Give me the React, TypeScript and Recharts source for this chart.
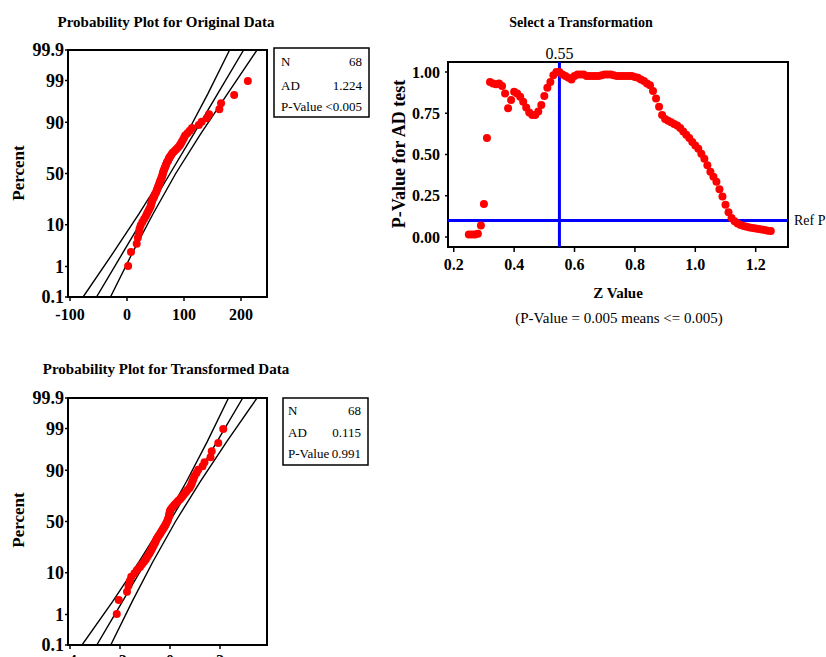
import React from 'react'
import {
  ComposedChart,
  ScatterChart,
  Scatter,
  XAxis,
  YAxis,
  ReferenceArea,
  ReferenceLine,
} from 'recharts'

const FONT = '"Liberation Serif", "Times New Roman", serif'

// original data, sorted (68 values)
const ORIGINAL = [
  2, 7, 17, 19, 21, 22, 24, 27, 30, 33,
  35, 37, 39, 41, 42, 43, 44, 45, 47, 48,
  49, 51, 52, 53, 54, 55, 56, 57, 58, 59,
  60, 61, 62, 62.5, 63, 64, 65, 66, 67, 68,
  69, 70, 72, 73, 74, 76, 78, 80, 83, 86,
  89, 92, 94, 96, 98, 100, 102, 106, 110, 114,
  126, 131, 140, 144, 162, 165, 188, 212,
]

// transformed data, sorted (68 values)
const TRANSFORMED = [
  -2.13, -2.05, -1.72, -1.66, -1.6, -1.55, -1.42, -1.32, -1.2, -1.12,
  -1.04, -0.97, -0.92, -0.86, -0.81, -0.77, -0.73, -0.69, -0.66, -0.62,
  -0.59, -0.56, -0.53, -0.49, -0.45, -0.41, -0.37, -0.33, -0.29, -0.26,
  -0.22, -0.19, -0.16, -0.13, -0.1, -0.08, -0.06, -0.04, -0.03, -0.02,
  -0.01, 0.01, 0.05, 0.1, 0.15, 0.2, 0.27, 0.33, 0.4, 0.46,
  0.52, 0.58, 0.64, 0.7, 0.78, 0.83, 0.87, 0.9, 0.94, 0.98,
  1.06, 1.13, 1.3, 1.38, 1.62, 1.67, 1.93, 2.13,
]

const PCT_TICKS = [0.1, 1, 10, 50, 90, 99, 99.9]
const ORIG_X_TICKS = [-100, 0, 100, 200]
const TRANS_X_TICKS = [-4, -2, 0, 2]

// fitted line and confidence bands, read at these normal scores
const BAND_Z = [-3.09, -2, -1, 0, 1, 2, 3.09]
const ORIG_FIT = [-53.5, -8, 33.8, 75.6, 117.4, 159.2, 204.6]
const ORIG_LOW = [-77, -25, 21.5, 65.5, 105, 142, 180]
const ORIG_HIGH = [-29, 9, 46, 85.5, 129.5, 176.5, 228]
const TRANS_FIT = [-2.93, -1.9, -0.955, -0.01, 0.935, 1.88, 2.91]
const TRANS_LOW = [-3.52, -2.29, -1.23, -0.24, 0.66, 1.49, 2.34]
const TRANS_HIGH = [-2.37, -1.51, -0.68, 0.22, 1.21, 2.27, 3.48]

// Z value grid and P-value for AD test
const Z_GRID = [
  0.25, 0.26, 0.27, 0.28, 0.29, 0.3, 0.31, 0.32, 0.33, 0.34,
  0.35, 0.36, 0.37, 0.38, 0.39, 0.4, 0.41, 0.42, 0.43, 0.44,
  0.45, 0.46, 0.47, 0.48, 0.49, 0.5, 0.51, 0.52, 0.53, 0.54,
  0.55, 0.56, 0.57, 0.58, 0.59, 0.6, 0.61, 0.62, 0.63, 0.64,
  0.65, 0.66, 0.67, 0.68, 0.69, 0.7, 0.71, 0.72, 0.73, 0.74,
  0.75, 0.76, 0.77, 0.78, 0.79, 0.8, 0.81, 0.82, 0.83, 0.84,
  0.85, 0.86, 0.87, 0.88, 0.89, 0.9, 0.91, 0.92, 0.93, 0.94,
  0.95, 0.96, 0.97, 0.98, 0.99, 1.0, 1.01, 1.02, 1.03, 1.04,
  1.05, 1.06, 1.07, 1.08, 1.09, 1.1, 1.11, 1.12, 1.13, 1.14,
  1.15, 1.16, 1.17, 1.18, 1.19, 1.2, 1.21, 1.22, 1.23, 1.24, 1.25,
]
const P_VALUES = [
  0.015, 0.015, 0.015, 0.02, 0.07, 0.2, 0.6, 0.94, 0.93, 0.925,
  0.93, 0.915, 0.87, 0.78, 0.83, 0.88, 0.87, 0.85, 0.82, 0.785,
  0.755, 0.74, 0.74, 0.76, 0.8, 0.855, 0.905, 0.94, 0.98, 1.0,
  1.0, 0.985, 0.975, 0.965, 0.955, 0.975, 0.985, 0.985, 0.985, 0.975,
  0.975, 0.975, 0.975, 0.975, 0.98, 0.985, 0.985, 0.985, 0.98, 0.975,
  0.975, 0.975, 0.975, 0.975, 0.975, 0.97, 0.965, 0.955, 0.945, 0.93,
  0.92, 0.885, 0.84, 0.79, 0.74, 0.715, 0.705, 0.695, 0.685, 0.675,
  0.66, 0.64, 0.62, 0.6, 0.575, 0.555, 0.535, 0.505, 0.475, 0.435,
  0.395, 0.365, 0.335, 0.29, 0.245, 0.195, 0.15, 0.115, 0.095, 0.082,
  0.072, 0.066, 0.062, 0.058, 0.055, 0.051, 0.048, 0.045, 0.042, 0.038, 0.036,
]
const Z_TICKS = [0.2, 0.4, 0.6, 0.8, 1.0, 1.2]
const P_TICKS = [0, 0.25, 0.5, 0.75, 1]
const SELECTED_Z = 0.55
const REF_P = 0.1

// inverse normal cdf (Acklam), used for the probability axis
function probit(p: number) {
  const a = [-39.69683028665376, 220.9460984245205, -275.9285104469687, 138.357751867269, -30.66479806614716, 2.506628277459239]
  const b = [-54.47609879822406, 161.5858368580409, -155.6989798598866, 66.80131188771972, -13.28068155288572]
  const c = [-0.007784894002430293, -0.3223964580411365, -2.400758277161838, -2.549732539343734, 4.374664141464968, 2.938163982698783]
  const d = [0.007784695709041462, 0.3224671290700398, 2.445134137142996, 3.754408661907416]
  const pl = 0.02425
  if (p < pl) {
    const q = Math.sqrt(-2 * Math.log(p))
    return (((((c[0] * q + c[1]) * q + c[2]) * q + c[3]) * q + c[4]) * q + c[5]) / ((((d[0] * q + d[1]) * q + d[2]) * q + d[3]) * q + 1)
  }
  if (p > 1 - pl) {
    const q = Math.sqrt(-2 * Math.log(1 - p))
    return -(((((c[0] * q + c[1]) * q + c[2]) * q + c[3]) * q + c[4]) * q + c[5]) / ((((d[0] * q + d[1]) * q + d[2]) * q + d[3]) * q + 1)
  }
  const q = p - 0.5
  const r = q * q
  return ((((((a[0] * r + a[1]) * r + a[2]) * r + a[3]) * r + a[4]) * r + a[5]) * q) / (((((b[0] * r + b[1]) * r + b[2]) * r + b[3]) * r + b[4]) * r + 1)
}

const Z_MAX = probit(0.999)
const PCT_Z = PCT_TICKS.map((p) => probit(p / 100))

const redDot = (r: number) => (props: any) =>
  props.cx == null ? <g /> : <circle cx={props.cx} cy={props.cy} r={r} fill="#ff0000" />
const noDot = () => <g />

interface ProbPlotProps {
  values: number[]
  xDomain: [number, number]
  xTicks: number[]
  fit: number[]
  low: number[]
  high: number[]
  top: number
  axisHeight: number
  labelGap: number
}

function ProbPlot({ values, xDomain, xTicks, fit, low, high, top, axisHeight, labelGap }: ProbPlotProps) {
  const n = values.length
  const points = values.map((v, i) => ({ x: v, z: probit((i + 1 - 0.3) / (n + 0.4)) }))
  const toLine = (xs: number[]) => xs.map((x, i) => ({ x, z: BAND_Z[i] }))
  const lineStyle = { stroke: '#000', strokeWidth: 1.4 }
  return (
    <ComposedChart width={280} height={top + 247 + axisHeight} margin={{ top, right: 13, bottom: 0, left: 0 }}>
      <XAxis
        type="number"
        dataKey="x"
        domain={xDomain}
        ticks={xTicks}
        interval={0}
        allowDataOverflow
        height={axisHeight}
        axisLine={false}
        tickSize={4}
        tickMargin={labelGap}
        tickLine={{ stroke: '#000', strokeWidth: 1.5 }}
        tick={{ fill: '#000', fontSize: 16, fontWeight: 'bold' }}
      />
      <YAxis
        type="number"
        dataKey="z"
        domain={[-Z_MAX, Z_MAX]}
        ticks={PCT_Z}
        interval={0}
        allowDataOverflow
        width={68}
        axisLine={false}
        tickSize={3}
        tickMargin={1}
        tickLine={{ stroke: '#000', strokeWidth: 1.5 }}
        tick={{ fill: '#000', fontSize: 18, fontWeight: 'bold' }}
        tickFormatter={(v: number) => {
          const k = PCT_Z.findIndex((z) => Math.abs(z - v) < 1e-6)
          return k >= 0 ? String(PCT_TICKS[k]) : ''
        }}
      />
      <ReferenceArea
        x1={xDomain[0]}
        x2={xDomain[1]}
        y1={-Z_MAX}
        y2={Z_MAX}
        fill="none"
        fillOpacity={0}
        stroke="#000"
        strokeWidth={2}
        ifOverflow="visible"
      />
      <Scatter data={toLine(low)} line={lineStyle} shape={noDot} isAnimationActive={false} />
      <Scatter data={toLine(fit)} line={lineStyle} shape={noDot} isAnimationActive={false} />
      <Scatter data={toLine(high)} line={lineStyle} shape={noDot} isAnimationActive={false} />
      <Scatter data={points} shape={redDot(4)} isAnimationActive={false} />
    </ComposedChart>
  )
}

function TransformPlot() {
  const data = Z_GRID.map((z, i) => ({ z, p: P_VALUES[i] }))
  return (
    <ScatterChart width={446} height={280} margin={{ top: 62, right: 38, bottom: 0, left: 0 }}>
      <XAxis
        type="number"
        dataKey="z"
        domain={[0.181, 1.307]}
        ticks={Z_TICKS}
        interval={0}
        allowDataOverflow
        height={33}
        axisLine={false}
        tickSize={5}
        tickMargin={7}
        tickLine={{ stroke: '#000', strokeWidth: 1.5 }}
        tick={{ fill: '#000', fontSize: 16, fontWeight: 'bold' }}
        tickFormatter={(v: number) => v.toFixed(1)}
      />
      <YAxis
        type="number"
        dataKey="p"
        domain={[-0.0606, 1.0606]}
        ticks={P_TICKS}
        interval={0}
        allowDataOverflow
        width={68}
        axisLine={false}
        tickSize={3}
        tickMargin={5}
        tickLine={{ stroke: '#000', strokeWidth: 1.5 }}
        tick={{ fill: '#000', fontSize: 16, fontWeight: 'bold' }}
        tickFormatter={(v: number) => v.toFixed(2)}
      />
      <ReferenceArea
        x1={0.181}
        x2={1.307}
        y1={-0.0606}
        y2={1.0606}
        fill="none"
        fillOpacity={0}
        stroke="#000"
        strokeWidth={2}
        ifOverflow="visible"
      />
      <ReferenceLine
        x={SELECTED_Z}
        stroke="#0000ff"
        strokeWidth={3}
        label={{ value: '0.55', position: 'top', offset: 3, fill: '#000', fontSize: 16, fontFamily: FONT }}
      />
      <ReferenceLine
        y={REF_P}
        stroke="#0000ff"
        strokeWidth={3}
        label={{ value: 'Ref P', position: 'right', offset: 6, fill: '#000', fontSize: 14, fontFamily: FONT }}
      />
      <Scatter data={data} shape={redDot(4)} isAnimationActive={false} />
    </ScatterChart>
  )
}

function StatBox({ x, y, w, h, rows, labelX, valueX, baselines }: {
  x: number; y: number; w: number; h: number; rows: [string, string][]; labelX: number; valueX: number; baselines: number[]
}) {
  return (
    <g fontSize={13} fill="#000">
      <rect x={x} y={y} width={w} height={h} fill="#fff" stroke="#000" strokeWidth={1.5} />
      {rows.map(([k, v], i) => (
        <g key={k}>
          <text x={labelX} y={baselines[i]}>{k}</text>
          <text x={valueX} y={baselines[i]} textAnchor="end">{v}</text>
        </g>
      ))}
    </g>
  )
}

export default function App() {
  return (
    <div
      style={{
        position: 'absolute',
        left: 0,
        top: 0,
        width: 826,
        height: 657,
        overflow: 'hidden',
        background: '#fff',
        fontFamily: FONT,
      }}
    >
      <div style={{ position: 'absolute', left: 0, top: 0 }}>
        <ProbPlot
          values={ORIGINAL}
          xDomain={[-103.5, 245.6]}
          xTicks={ORIG_X_TICKS}
          fit={ORIG_FIT}
          low={ORIG_LOW}
          high={ORIG_HIGH}
          top={50}
          axisHeight={33}
          labelGap={8}
        />
      </div>
      <div style={{ position: 'absolute', left: 0, top: 350 }}>
        <ProbPlot
          values={TRANSFORMED}
          xDomain={[-4.08, 3.88]}
          xTicks={TRANS_X_TICKS}
          fit={TRANS_FIT}
          low={TRANS_LOW}
          high={TRANS_HIGH}
          top={48}
          axisHeight={37}
          labelGap={6}
        />
      </div>
      <div style={{ position: 'absolute', left: 380, top: 0 }}>
        <TransformPlot />
      </div>
      <svg
        width={826}
        height={657}
        style={{ position: 'absolute', left: 0, top: 0, pointerEvents: 'none', fontFamily: FONT }}
      >
        <g fontWeight="bold" fill="#000">
          <text x={166} y={27} fontSize={15} textAnchor="middle">Probability Plot for Original Data</text>
          <text x={581} y={27} fontSize={14} textAnchor="middle">Select a Transformation</text>
          <text x={166} y={374} fontSize={15} textAnchor="middle">Probability Plot for Transformed Data</text>
          <text x={24} y={173} fontSize={17} textAnchor="middle" transform="rotate(-90 24 173)">Percent</text>
          <text x={24} y={520} fontSize={17} textAnchor="middle" transform="rotate(-90 24 520)">Percent</text>
          <text x={405} y={154} fontSize={18} textAnchor="middle" transform="rotate(-90 405 154)">P-Value for AD test</text>
          <text x={618} y={298} fontSize={15} textAnchor="middle">Z Value</text>
        </g>
        <text x={619} y={323} fontSize={15} textAnchor="middle" fill="#000">(P-Value = 0.005 means &lt;= 0.005)</text>
        <StatBox
          x={274}
          y={48}
          w={95}
          h={69}
          rows={[['N', '68'], ['AD', '1.224'], ['P-Value', '<0.005']]}
          labelX={281}
          valueX={362}
          baselines={[66, 90, 111]}
        />
        <StatBox
          x={283}
          y={398}
          w={85}
          h={67}
          rows={[['N', '68'], ['AD', '0.115'], ['P-Value', '0.991']]}
          labelX={288}
          valueX={361}
          baselines={[415, 437, 458]}
        />
      </svg>
    </div>
  )
}
